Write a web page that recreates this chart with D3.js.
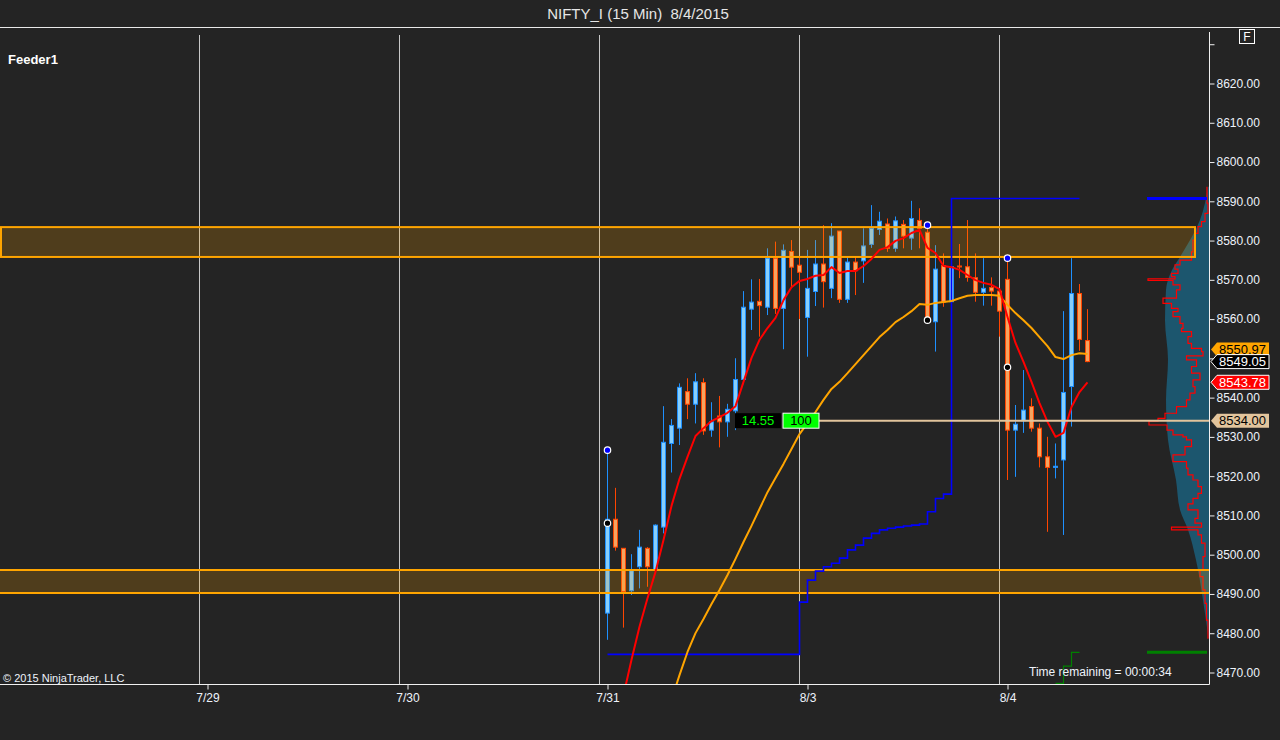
<!DOCTYPE html>
<html>
<head>
<meta charset="utf-8">
<script src="https://cdn.jsdelivr.net/npm/d3@7"></script>
<style>
  html, body { margin: 0; padding: 0; background: #242424; }
  svg { display: block; font-family: Arial, "Liberation Sans", sans-serif; }
</style>
</head>
<body>
<script>
// ---------------------------------------------------------------
// NIFTY_I 15 min bars, 7/31 .. 8/4 (bar 0 = first bar of 7/31)
// ---------------------------------------------------------------
const opens  = [8485.0, 8508.9, 8501.5, 8490.7, 8496.8, 8501.5, 8496.0, 8506.9, 8528.2, 8532.1,
                8541.4, 8538.2, 8543.7, 8531.6, 8535.2, 8533.7, 8536.5, 8544.5, 8562.4, 8564.4,
                8562.9, 8575.4, 8562.6, 8577.1, 8573.6, 8560.3, 8566.9, 8573.9, 8567.7, 8582.3,
                8564.9, 8574.4, 8574.7, 8578.9, 8582.7, 8584.1, 8577.9, 8584.0, 8580.5, 8585.0,
                8582.0, 8559.2, 8573.5, 8564.3, 8573.4, 8573.2, 8570.4, 8566.7, 8567.9, 8567.0,
                8570.0, 8531.6, 8534.0, 8537.6, 8532.1, 8524.8, 8522.1, 8524.0, 8542.7, 8566.4,
                8554.4];
const highs  = [8526.5, 8516.9, 8501.5, 8500.0, 8506.2, 8501.8, 8507.6, 8537.7, 8534.4, 8543.5,
                8544.8, 8546.1, 8544.8, 8538.7, 8540.3, 8538.3, 8549.9, 8567.0, 8570.0, 8570.1,
                8577.9, 8579.6, 8578.9, 8580.0, 8575.8, 8577.5, 8580.0, 8583.8, 8584.3, 8582.3,
                8575.8, 8575.8, 8583.0, 8588.9, 8587.2, 8585.5, 8586.0, 8585.1, 8590.0, 8588.1,
                8583.8, 8578.7, 8576.6, 8573.9, 8579.0, 8585.1, 8576.6, 8575.4, 8570.5, 8567.5,
                8575.4, 8538.0, 8546.9, 8539.7, 8533.3, 8529.9, 8528.2, 8561.9, 8575.4, 8568.8,
                8562.4];
const lows   = [8478.2, 8500.9, 8481.3, 8489.6, 8491.3, 8491.7, 8495.5, 8505.3, 8520.8, 8527.8,
                8534.4, 8533.3, 8530.4, 8529.9, 8527.2, 8529.9, 8531.6, 8543.3, 8557.1, 8555.4,
                8560.9, 8561.2, 8552.2, 8568.1, 8559.9, 8550.3, 8563.2, 8562.8, 8565.2, 8564.0,
                8564.0, 8566.0, 8569.1, 8578.0, 8581.3, 8577.0, 8577.0, 8577.9, 8577.5, 8577.9,
                8559.2, 8551.6, 8563.0, 8560.5, 8570.3, 8569.4, 8564.3, 8563.3, 8563.3, 8555.4,
                8518.9, 8519.7, 8530.9, 8531.2, 8522.1, 8505.7, 8519.3, 8504.9, 8532.5, 8551.8,
                8548.9];
const closes = [8508.9, 8501.8, 8490.5, 8495.8, 8501.8, 8496.8, 8507.4, 8528.5, 8532.8, 8542.5,
                8538.2, 8543.9, 8531.4, 8533.7, 8533.7, 8536.9, 8544.5, 8562.9, 8564.2, 8563.3,
                8575.4, 8562.6, 8577.4, 8573.1, 8571.8, 8567.7, 8573.9, 8569.4, 8581.0, 8564.9,
                8574.4, 8572.2, 8578.5, 8583.0, 8584.8, 8577.9, 8584.9, 8581.0, 8585.5, 8583.0,
                8560.1, 8572.6, 8564.2, 8573.2, 8573.2, 8570.5, 8566.7, 8567.7, 8567.0, 8561.9,
                8531.6, 8533.1, 8536.7, 8532.1, 8524.8, 8522.1, 8522.4, 8541.2, 8566.4, 8554.7,
                8549.05];

// fast moving average (red)
const fastMA = [null, 8452.0, 8464.1, 8473.1, 8481.5, 8488.8, 8495.5, 8503.6, 8512.3, 8519.2,
                8524.8, 8530.1, 8532.1, 8533.9, 8534.9, 8536.0, 8537.7, 8543.9, 8550.0, 8554.6,
                8557.6, 8560.2, 8564.7, 8568.0, 8569.6, 8570.1, 8570.9, 8571.1, 8573.1, 8571.6,
                8572.1, 8572.1, 8573.4, 8575.2, 8577.5, 8578.2, 8579.8, 8580.5, 8581.8, 8582.6,
                8578.0, 8576.7, 8573.4, 8573.1, 8572.4, 8571.1, 8569.8, 8569.1, 8568.6, 8567.5,
                8560.4, 8553.8, 8549.0, 8543.9, 8538.5, 8533.7, 8529.9, 8530.9, 8537.5, 8541.3,
                8543.78];
// slow moving average (orange)
const slowMA = [null, null, null, null, null, null, null, null, 8462.9, 8469.2,
                8475.1, 8479.9, 8483.5, 8487.3, 8490.9, 8494.7, 8498.8, 8503.1, 8507.2, 8511.5,
                8515.8, 8519.4, 8523.0, 8526.8, 8530.6, 8533.4, 8536.2, 8539.3, 8542.1, 8543.9,
                8546.1, 8548.4, 8550.7, 8553.0, 8555.3, 8557.1, 8559.1, 8560.4, 8561.9, 8563.7,
                8563.5, 8564.0, 8564.2, 8564.5, 8565.2, 8565.8, 8566.0, 8566.0, 8566.0, 8565.8,
                8563.5, 8561.4, 8559.6, 8557.6, 8555.3, 8553.0, 8550.2, 8549.7, 8550.7, 8551.2,
                8550.97];
// blue step indicator (value held from bar i to bar i+1)
const blueStep = [8474.5, 8474.5, 8474.5, 8474.5, 8474.5, 8474.5, 8474.5, 8474.5, 8474.5, 8474.5,
                  8474.5, 8474.5, 8474.5, 8474.5, 8474.5, 8474.5, 8474.5, 8474.5, 8474.5, 8474.5,
                  8474.5, 8474.5, 8474.5, 8474.5, 8487.8, 8493.4, 8495.7, 8496.8, 8497.7, 8499.0,
                  8501.1, 8502.3, 8504.1, 8505.3, 8506.2, 8506.6, 8506.9, 8507.2, 8507.4, 8507.7,
                  8510.8, 8514.2, 8515.3, 8590.6, 8590.6, 8590.6, 8590.6, 8590.6, 8590.6, 8590.6,
                  8590.6, 8590.6, 8590.6, 8590.6, 8590.6, 8590.6, 8590.6, 8590.6, 8590.6];
// green step indicator, starts at bar 56
const greenStart = 56;
const greenStep = [8467.1, 8471.5, 8475.0];

// swing markers
const swingHighs = [{bar: 0, price: 8526.5}, {bar: 40, price: 8583.8}, {bar: 50, price: 8575.4}];
const swingLows  = [{bar: 0, price: 8507.9}, {bar: 40, price: 8559.6}, {bar: 50, price: 8547.6}];

// supply / demand zones
const zoneUpper = {hi: 8583.3, lo: 8575.7, endBar: 73.5};
const zoneLower = {hi: 8496.0, lo: 8490.1};

// horizontal order line
const orderPrice = 8534.0;
const orderStartBar = 26.5;
const orderTexts = ["14.55", "100"];

// volume profile, raw (red outline) and smoothed (teal fill): [price, volume]
const profileRaw = [[8593.6, 20], [8589.4, 10], [8586.8, 40], [8584.7, 75], [8583.4, 110], [8581.7, 140],
  [8580.0, 160], [8578.3, 160], [8577.0, 175], [8574.9, 290], [8573.7, 340], [8572.6, 310],
  [8571.5, 375], [8570.7, 340], [8570.1, 610], [8569.7, 360], [8568.6, 290], [8567.3, 325],
  [8565.2, 460], [8563.9, 375], [8562.6, 310], [8561.8, 360], [8560.5, 290], [8558.8, 260],
  [8557.5, 275], [8556.7, 175], [8555.4, 210], [8553.7, 175], [8552.4, 75], [8551.6, 60],
  [8550.5, 225], [8549.5, 125], [8547.8, 175], [8546.1, 90], [8544.4, 160], [8542.7, 140],
  [8541.0, 190], [8539.3, 225], [8537.6, 325], [8535.9, 440], [8534.6, 510], [8533.9, 600],
  [8532.9, 420], [8531.6, 360], [8530.4, 260], [8529.9, 225], [8529.1, 175], [8527.4, 240],
  [8525.3, 360], [8523.6, 225], [8521.9, 210], [8520.2, 160], [8518.9, 110], [8517.2, 75],
  [8515.5, 110], [8514.2, 160], [8512.8, 210], [8511.3, 110], [8509.1, 140], [8507.9, 75],
  [8506.9, 375], [8506.2, 110], [8504.9, 75], [8502.8, 40], [8499.4, 60], [8496.0, 90],
  [8494.3, 60], [8490.9, 40], [8487.5, 25], [8483.2, 10], [8478.6, 5]];
const profileSmooth = [[8593.6, 10], [8585.1, 90], [8575.7, 290], [8572.4, 370], [8567.3, 430],
  [8559.6, 440], [8549.5, 410], [8539.3, 430], [8529.1, 410], [8518.9, 330], [8511.3, 290],
  [8506.2, 210], [8498.5, 130], [8488.3, 60], [8478.6, 5]];

// axes
const dayStarts = [-50, -25, 0, 25, 50];
const dayLabels = ["7/29", "7/30", "7/31", "8/3", "8/4"];
const priceTicks = d3.range(8470, 8631, 10);

// price tags on the right axis
const priceTags = [
  {value: 8550.97, bg: "#ffa500", fg: "#000000", border: null},
  {value: 8549.05, bg: "#000000", fg: "#ffffff", border: "#ffffff"},
  {value: 8543.78, bg: "#ff0000", fg: "#ffffff", border: "#ffffff"},
  {value: 8534.00, bg: "#e2c49c", fg: "#000000", border: null}
];

// ---------------------------------------------------------------
const WIDTH = 1280, HEIGHT = 740;
const PLOT = {left: 0, right: 1209, top: 28, bottom: 684};
const BG = "#242424";
const TXT = "#eef3fb";

const svg = d3.select("body").append("svg")
  .attr("width", WIDTH).attr("height", HEIGHT);
svg.append("rect").attr("width", WIDTH).attr("height", HEIGHT).attr("fill", BG);

const X = d3.scaleLinear().domain([0, 60]).range([607, 1087]);
const Y = d3.scaleLinear().domain([8470, 8620]).range([672, 83]);
const V = d3.scaleLinear().domain([0, 610]).range([0, 61]);

svg.append("clipPath").attr("id", "plotClip")
  .append("rect")
    .attr("x", PLOT.left).attr("y", PLOT.top)
    .attr("width", PLOT.right - PLOT.left).attr("height", PLOT.bottom - PLOT.top);

// title
svg.append("text")
  .attr("x", 638).attr("y", 19)
  .attr("text-anchor", "middle")
  .attr("fill", "#e6e6e6")
  .attr("font-size", 15)
  .style("white-space", "pre")
  .text("NIFTY_I (15 Min)  8/4/2015");
svg.append("line")
  .attr("x1", 0).attr("x2", WIDTH).attr("y1", 27.5).attr("y2", 27.5)
  .attr("stroke", "#e8e8e8");

// vertical session grid lines
svg.append("g").selectAll("line")
  .data(dayStarts)
  .enter().append("line")
    .attr("x1", d => X(d - 1) + 0.5).attr("x2", d => X(d - 1) + 0.5)
    .attr("y1", 35).attr("y2", PLOT.bottom)
    .attr("stroke", "#c8c8c8");

const plot = svg.append("g").attr("clip-path", "url(#plotClip)");

// volume profile
const axisX = PLOT.right;
plot.append("path")
  .datum(profileSmooth)
  .attr("d", d3.area().curve(d3.curveMonotoneY)
    .y(d => Y(d[0])).x0(axisX).x1(d => axisX - V(d[1])))
  .attr("fill", "#1c566e");
plot.append("path")
  .datum(profileRaw)
  .attr("d", d3.line().curve(d3.curveStepBefore)
    .x(d => axisX - V(d[1])).y(d => Y(d[0])))
  .attr("fill", "none")
  .attr("stroke", "#ff0000")
  .attr("stroke-width", 1.2);

// candles
const bars = opens.map((o, i) => ({i: i, o: o, h: highs[i], l: lows[i], c: closes[i]}));
const UP = {fill: "#87cefa", line: "#1e90ff"};
const DOWN = {fill: "#f4a460", line: "#ff4500"};

plot.append("g").selectAll("line")
  .data(bars)
  .enter().append("line")
    .attr("x1", d => X(d.i) + 0.5).attr("x2", d => X(d.i) + 0.5)
    .attr("y1", d => Y(d.h)).attr("y2", d => Y(d.l))
    .attr("stroke", d => d.c >= d.o ? UP.line : DOWN.line);

plot.append("g").selectAll("rect")
  .data(bars)
  .enter().append("rect")
    .attr("x", d => X(d.i) - 1.5)
    .attr("y", d => Y(Math.max(d.o, d.c)))
    .attr("width", 4)
    .attr("height", d => Math.max(1, Math.abs(Y(d.o) - Y(d.c))))
    .attr("fill", d => d.c >= d.o ? UP.fill : DOWN.fill)
    .attr("stroke", d => d.c >= d.o ? UP.line : DOWN.line);

// zones
plot.append("rect")
  .attr("x", 1).attr("y", Y(zoneUpper.hi))
  .attr("width", X(zoneUpper.endBar) - 1).attr("height", Y(zoneUpper.lo) - Y(zoneUpper.hi))
  .attr("fill", "#ffa500").attr("fill-opacity", 0.2)
  .attr("stroke", "#ffa500").attr("stroke-width", 2);
plot.append("rect")
  .attr("x", 0).attr("y", Y(zoneLower.hi))
  .attr("width", axisX).attr("height", Y(zoneLower.lo) - Y(zoneLower.hi))
  .attr("fill", "#ffa500").attr("fill-opacity", 0.2);
plot.append("g").selectAll("line")
  .data([zoneLower.hi, zoneLower.lo])
  .enter().append("line")
    .attr("x1", 0).attr("x2", axisX)
    .attr("y1", d => Y(d)).attr("y2", d => Y(d))
    .attr("stroke", "#ffa500").attr("stroke-width", 2);

// step indicators
const blueData = blueStep.map((v, i) => [i, v]);
blueData.push([blueStep.length, blueStep[blueStep.length - 1]]);
plot.append("path")
  .datum(blueData)
  .attr("d", d3.line().curve(d3.curveStepAfter).x(d => X(d[0]) + 0.5).y(d => Y(d[1])))
  .attr("fill", "none").attr("stroke", "#0000ff").attr("stroke-width", 1.6);

const greenData = greenStep.map((v, i) => [greenStart + i, v]);
greenData.push([greenStart + greenStep.length, greenStep[greenStep.length - 1]]);
plot.append("path")
  .datum(greenData)
  .attr("d", d3.line().curve(d3.curveStepAfter).x(d => X(d[0]) + 0.5).y(d => Y(d[1])))
  .attr("fill", "none").attr("stroke", "#008000").attr("stroke-width", 1.2);

// current values of the step indicators at the right edge
svg.append("g").selectAll("line")
  .data([{v: blueStep[blueStep.length - 1], c: "#0000ff"}, {v: greenStep[greenStep.length - 1], c: "#008000"}])
  .enter().append("line")
    .attr("x1", axisX - 62).attr("x2", axisX - 2)
    .attr("y1", d => Y(d.v)).attr("y2", d => Y(d.v))
    .attr("stroke", d => d.c).attr("stroke-width", 3);

// moving averages
const maLine = d3.line()
  .defined(d => d[1] !== null)
  .x(d => X(d[0]) + 0.5).y(d => Y(d[1]));
plot.append("path")
  .datum(slowMA.map((v, i) => [i, v]))
  .attr("d", maLine)
  .attr("fill", "none").attr("stroke", "#ffa500").attr("stroke-width", 2)
  .attr("stroke-linejoin", "round");
plot.append("path")
  .datum(fastMA.map((v, i) => [i, v]))
  .attr("d", maLine)
  .attr("fill", "none").attr("stroke", "#ff0000").attr("stroke-width", 2)
  .attr("stroke-linejoin", "round");

// order line with its boxes
const oy = Y(orderPrice);
const ox = X(orderStartBar);
plot.append("line")
  .attr("x1", ox).attr("x2", axisX).attr("y1", oy).attr("y2", oy)
  .attr("stroke", "#e2c49c").attr("stroke-width", 2);
plot.append("rect")
  .attr("x", ox - 36).attr("y", oy - 7.5).attr("width", 36).attr("height", 15)
  .attr("fill", "#00ff00").attr("stroke", "#ffffff");
plot.append("text")
  .attr("x", ox - 18).attr("y", oy).attr("dy", "0.36em")
  .attr("text-anchor", "middle").attr("font-size", 13).attr("fill", "#000")
  .text(orderTexts[1]);
plot.append("rect")
  .attr("x", ox - 84).attr("y", oy - 7.5).attr("width", 46).attr("height", 15)
  .attr("fill", "#000000");
plot.append("text")
  .attr("x", ox - 61).attr("y", oy).attr("dy", "0.36em")
  .attr("text-anchor", "middle").attr("font-size", 13).attr("fill", "#00ff00")
  .text(orderTexts[0]);

// swing markers
plot.append("g").selectAll("circle")
  .data(swingHighs.map(d => ({...d, c: "#0000ff"})).concat(swingLows.map(d => ({...d, c: "#000000"}))))
  .enter().append("circle")
    .attr("cx", d => X(d.bar) + 0.5).attr("cy", d => Y(d.price))
    .attr("r", 3.2)
    .attr("fill", d => d.c).attr("stroke", "#ffffff").attr("stroke-width", 1.2);

// x axis
svg.append("line")
  .attr("x1", 0).attr("x2", axisX + 0.5).attr("y1", PLOT.bottom + 0.5).attr("y2", PLOT.bottom + 0.5)
  .attr("stroke", "#f0f0f0");
const xAxis = svg.append("g")
  .attr("transform", "translate(0.5," + (PLOT.bottom + 0.5) + ")")
  .call(d3.axisBottom(X).tickValues(dayStarts).tickFormat((d, i) => dayLabels[i])
    .tickSize(5).tickPadding(4));
xAxis.select(".domain").remove();
xAxis.selectAll("line").attr("stroke", "#f0f0f0");
xAxis.selectAll("text").attr("fill", TXT).attr("font-size", 12)
  .attr("font-family", "Arial, 'Liberation Sans', sans-serif");

// y axis
svg.append("line")
  .attr("x1", axisX + 0.5).attr("x2", axisX + 0.5).attr("y1", 32).attr("y2", PLOT.bottom + 0.5)
  .attr("stroke", "#f0f0f0");
const yAxis = svg.append("g")
  .attr("transform", "translate(" + (axisX + 0.5) + ",0.5)")
  .call(d3.axisRight(Y).tickValues(priceTicks)
    .tickFormat(d => d === 8630 ? "" : d.toFixed(2))
    .tickSize(5).tickPadding(2));
yAxis.select(".domain").remove();
yAxis.selectAll("line").attr("stroke", "#f0f0f0");
yAxis.selectAll("text").attr("fill", TXT).attr("font-size", 12)
  .attr("font-family", "Arial, 'Liberation Sans', sans-serif");

// price tags, nudged apart when they overlap (the later tag is drawn on top)
const tagPos = priceTags.map(t => ({...t, y: Y(t.value)}));
const byValue = tagPos.slice().sort((a, b) => a.value - b.value);
for (let k = 1; k < byValue.length; k++) {
  if (byValue[k - 1].y - byValue[k].y < 12) byValue[k].y = byValue[k - 1].y - 12;
}
const tags = svg.append("g").selectAll("g")
  .data(tagPos)
  .enter().append("g")
    .attr("transform", d => "translate(" + (axisX + 2) + "," + d.y + ")");
tags.append("path")
  .attr("d", "M0,0 L6,-7 L58,-7 L58,7 L6,7 Z")
  .attr("fill", d => d.bg)
  .attr("stroke", d => d.border || "none");
tags.append("text")
  .attr("x", 8).attr("dy", "0.36em")
  .attr("font-size", 13)
  .attr("fill", d => d.fg)
  .text(d => d.value.toFixed(2));

// labels
svg.append("text")
  .attr("x", 8).attr("y", 64)
  .attr("font-size", 13).attr("font-weight", "bold").attr("fill", "#ffffff")
  .text("Feeder1");
svg.append("text")
  .attr("x", 3).attr("y", 682)
  .attr("font-size", 11).attr("fill", TXT)
  .text("\u00a9 2015 NinjaTrader, LLC");
svg.append("text")
  .attr("x", 1029).attr("y", 676)
  .attr("font-size", 12).attr("fill", TXT)
  .text("Time remaining = 00:00:34");

// "F" button
svg.append("rect")
  .attr("x", 1239.5).attr("y", 29.5).attr("width", 15).attr("height", 14)
  .attr("fill", "none").attr("stroke", "#ffffff");
svg.append("text")
  .attr("x", 1247).attr("y", 41)
  .attr("text-anchor", "middle").attr("font-size", 12).attr("fill", "#ffffff")
  .text("F");
</script>
</body>
</html>
